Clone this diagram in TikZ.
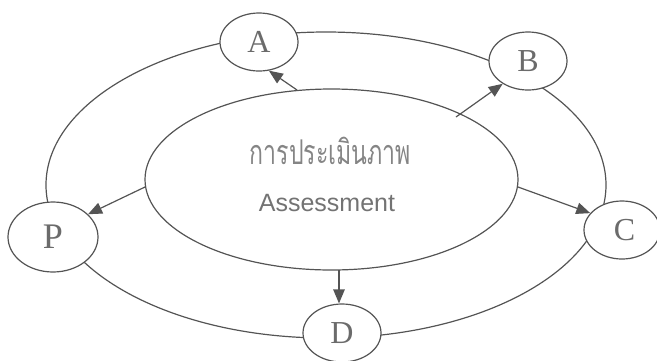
\documentclass[tikz,border=0pt]{standalone}
\usepackage{fontspec}
\setmainfont{Liberation Serif}
\newfontfamily\sansf{Liberation Sans}
\newfontfamily\thaifont[Script=Thai]{Loma}
\usetikzlibrary{shapes.geometric,arrows.meta}
\definecolor{linegray}{gray}{0.33}
\definecolor{textgray}{gray}{0.42}
\definecolor{softgray}{gray}{0.45}
\definecolor{thaigray}{gray}{0.52}
\tikzset{
  ring/.style={draw=linegray, line width=1.2pt},
  stage/.style={ellipse, draw=linegray, line width=1.2pt, fill=white, inner sep=0pt,
    minimum width=78pt, minimum height=58pt, text=textgray, font=\fontsize{32}{32}\selectfont},
  flow/.style={draw=linegray, line width=1.2pt, -{Triangle[length=14pt,width=11.5pt]}, color=linegray},
}
\begin{document}
\begin{tikzpicture}[x=1pt,y=-1pt]
\useasboundingbox (0,0) rectangle (657,360);
% outer ring
\node[ellipse, ring, minimum width=560pt, minimum height=306pt, inner sep=0pt] (outer) at (326,185) {};
% inner ellipse
\node[ellipse, ring, minimum width=373pt, minimum height=181pt, inner sep=0pt] (inner) at (331.5,179.5) {};
\node[text=thaigray, inner sep=0pt, font=\thaifont\fontsize{22}{22}\selectfont] (thai) at (330.5,151) {\scalebox{1.05}[1.55]{การประเมินภาพ}};
\node[text=softgray, font=\sansf\fontsize{25}{25}\selectfont] (eng) at (327,203.5) {Assessment};
% stages
\node[stage] (A) at (259,42) {A};
\node[stage] (B) at (528,61) {B};
\node[stage, minimum width=76pt] (C) at (622,230) {\hspace*{5pt}C};
\node[stage] (D) at (342,333) {\raisebox{-3pt}{D}};
\node[stage, minimum width=90pt, minimum height=70pt, font=\fontsize{36}{36}\selectfont] (P) at (53,237) {\raisebox{-4pt}{P}};
% arrow starts on the inner ellipse
\coordinate (sA) at (297,90);
\coordinate (sB) at (456,117);
\coordinate (sC) at (518,187);
\coordinate (sP) at (145,187);
\coordinate (sD) at (339,270);
\draw[flow] (sA) -- (A.-71);
\draw[flow] (sB) -- (B.-138);
\draw[flow] (sC) -- (C.152);
\draw[flow] (sP) -- (P.33);
\draw[flow] (sD) -- (sD |- D.north);
\end{tikzpicture}
\end{document}
